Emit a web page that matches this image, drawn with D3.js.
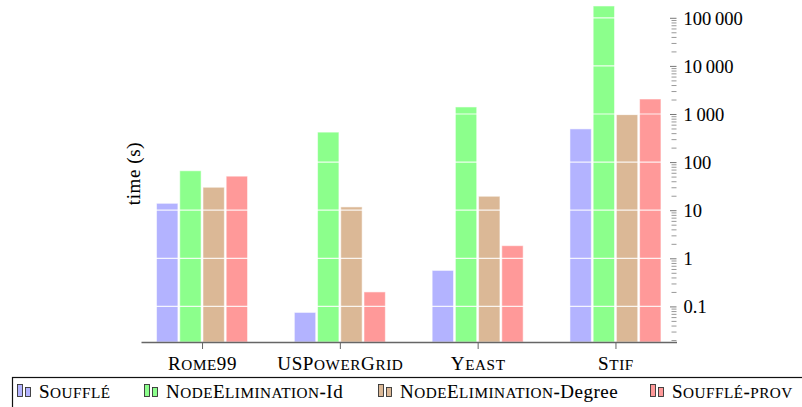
<!DOCTYPE html>
<html>
<head>
<meta charset="utf-8">
<script src="https://cdn.jsdelivr.net/npm/d3@7"></script>
<style>
  body { margin: 0; background: #fff; }
  svg text { font-family: "Liberation Serif", "DejaVu Serif", serif; fill: #000; stroke: #000; stroke-width: 0.08px; }
</style>
</head>
<body>
<div id="chart"></div>
<script>

// Chart data
var categories = ["Rome99", "USPowerGrid", "Yeast", "Stif"];
var seriesNames = ["Soufflé", "NodeElimination-Id", "NodeElimination-Degree", "Soufflé-prov"];
var souffle = [13.9, 0.075, 0.56, 490];
var nodeElimId = [66, 420, 1400, 176000];
var nodeElimDegree = [30, 11.7, 19.5, 970];
var souffleProv = [51, 0.2, 1.83, 2050];
var yTickValues = [0.1, 1, 10, 100, 1000, 10000, 100000];
var yLabel = "time (s)";

var seriesValues = [souffle, nodeElimId, nodeElimDegree, souffleProv];
var colors = ["#b3b3ff", "#8cff8c", "#dbb896", "#ff9999"];
var serif = "'Liberation Serif', 'DejaVu Serif', serif";

// Fake small caps: capitals at full size, lower case as smaller capitals
function smallCaps(sel, str, size) {
	var re = /([^a-zà-ÿ]+)|([a-zà-ÿ]+)/g, m;
	while ((m = re.exec(str)) !== null) {
		if (m[1]) sel.append("tspan").style("font-size", size + "px").text(m[1]);
		else sel.append("tspan").style("font-size", (size * 0.8) + "px").text(m[2].toUpperCase());
	}
}

var logBarChart = {

	draw: function(config) {
		var width = 802, height = 407,
			plot = {left: 141, right: 676.5, top: 5, bottom: 342};

		var svg = d3.select("#" + config.element).append("svg")
			.attr("width", width)
			.attr("height", height);

		var x = d3.scalePoint()
			.domain(config.categories)
			.range([plot.left, plot.right])
			.padding(0.443);

		var xInner = d3.scaleBand()
			.domain(config.series)
			.range([-45.5, 45.5])
			.paddingInner(0.08);

		var y = d3.scaleLog()
			.domain([0.0182, 184500])
			.range([plot.bottom, plot.top]);

		// long table: one row per bar
		var rows = [];
		config.categories.forEach(function(c, i) {
			config.series.forEach(function(s, j) {
				rows.push({cat: c, series: s, idx: j, value: config.values[j][i]});
			});
		});

		// bars
		svg.append("g").selectAll("rect")
			.data(rows)
			.enter().append("rect")
			.attr("x", function(d) { return x(d.cat) + xInner(d.series); })
			.attr("y", function(d) { return y(d.value); })
			.attr("width", xInner.bandwidth())
			.attr("height", function(d) { return plot.bottom - y(d.value); })
			.style("fill", function(d) { return config.colors[d.idx]; })
			.style("stroke", "rgba(255,255,255,0.55)")
			.style("stroke-width", 1);

		// white major grid over bars
		svg.append("g").selectAll("line")
			.data(config.yTicks)
			.enter().append("line")
			.attr("x1", plot.left)
			.attr("x2", plot.right)
			.attr("y1", function(d) { return y(d); })
			.attr("y2", function(d) { return y(d); })
			.style("stroke", "#fff")
			.style("stroke-opacity", 0.85)
			.style("stroke-width", 1.2);

		// minor ticks (right axis, pointing inward)
		var minor = y.ticks().filter(function(t) { return config.yTicks.indexOf(t) < 0; });
		var yMinor = svg.append("g")
			.attr("transform", "translate(" + plot.right + ",0)")
			.call(d3.axisRight(y).tickValues(minor).tickSize(-5).tickFormat(""));
		yMinor.select(".domain").remove();
		yMinor.selectAll("line").style("stroke", "#999");

		// major ticks + labels
		var fmt = d3.format(",");
		var yAxis = svg.append("g")
			.attr("transform", "translate(" + plot.right + ",0)")
			.call(d3.axisRight(y).tickValues(config.yTicks).tickSize(-6.5).tickPadding(7)
				.tickFormat(function(d) { return fmt(d).replace(/,/g, "\u2009"); }));
		yAxis.attr("font-family", null);
		yAxis.select(".domain").remove();
		yAxis.selectAll("line").style("stroke", "#777");
		yAxis.selectAll("text")
			.attr("dy", "0.34em")
			.style("font-family", serif)
			.style("font-size", "18.5px");

		// bottom axis
		var xAxis = svg.append("g")
			.attr("transform", "translate(0," + plot.bottom + ")")
			.call(d3.axisBottom(x).tickSize(7).tickSizeOuter(0).tickFormat(""));
		xAxis.attr("font-family", null);
		xAxis.select(".domain").style("stroke", "#666").style("stroke-width", 1.4);
		xAxis.selectAll("line").style("stroke", "#666");
		xAxis.selectAll(".tick").append("text")
			.attr("y", 28)
			.style("text-anchor", "middle")
			.style("font-family", serif)
			.style("letter-spacing", "0.6px")
			.each(function(d) { smallCaps(d3.select(this), d, 19); });

		// y label
		svg.append("text")
			.attr("transform", "translate(140," + ((plot.top + plot.bottom) / 2) + ") rotate(-90)")
			.style("text-anchor", "middle")
			.style("font-family", serif)
			.style("font-size", "19px")
			.style("letter-spacing", "0.6px")
			.text(config.yLabel);

		// legend
		svg.append("rect")
			.attr("x", 12.5).attr("y", 377.5)
			.attr("width", 800).attr("height", 40)
			.style("fill", "none")
			.style("stroke", "#111")
			.style("stroke-width", 1.2);

		var legendX = [17, 144, 378, 650];
		var legend = svg.append("g").selectAll("g")
			.data(config.series)
			.enter().append("g")
			.attr("transform", function(d, i) { return "translate(" + legendX[i] + ",0)"; });

		legend.append("rect")
			.attr("x", 0.5).attr("y", 384.5).attr("width", 5).attr("height", 12)
			.style("fill", function(d, i) { return config.colors[i]; })
			.style("stroke", "#333").style("stroke-width", 0.9);
		legend.append("rect")
			.attr("x", 8.5).attr("y", 387.5).attr("width", 5).attr("height", 9)
			.style("fill", function(d, i) { return config.colors[i]; })
			.style("stroke", "#333").style("stroke-width", 0.9);

		legend.append("text")
			.attr("x", 22)
			.attr("y", 398)
			.style("font-family", serif)
			.style("letter-spacing", "0.5px")
			.each(function(d) {
				var t = d3.select(this);
				var m = d.match(/^(NodeElimination)(-.*)$/);
				if (m) {
					smallCaps(t, m[1], 19);
					t.append("tspan").style("font-size", "19px").text(m[2]);
				} else {
					smallCaps(t, d, 19);
				}
			});
	}
};

logBarChart.draw({
	element: "chart",
	categories: categories,
	series: seriesNames,
	values: seriesValues,
	colors: colors,
	yTicks: yTickValues,
	yLabel: yLabel
});
</script>
</body>
</html>
